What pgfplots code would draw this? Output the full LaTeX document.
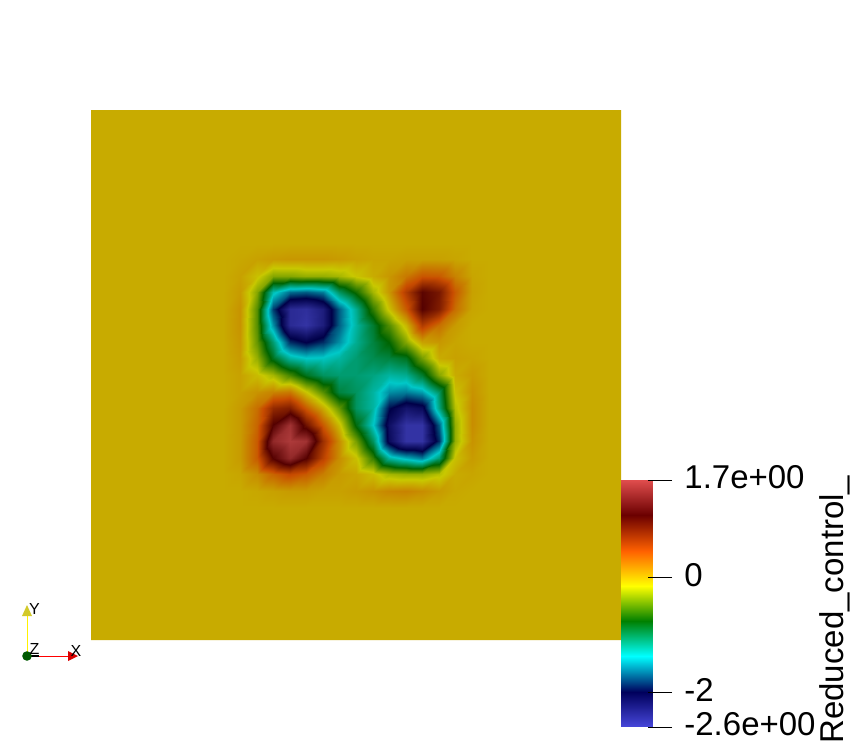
\documentclass[border=0pt]{standalone}
\usepackage{fontspec}
\setmainfont{Liberation Sans}
\usepackage{pgfplots}
\pgfplotsset{compat=1.18}
% ParaView rainbow desaturated; the lit surface is 0.784 times the bar colours
\pgfplotsset{
  colormap={bar}{rgb255(0cm)=(71,71,219) rgb255(1cm)=(0,0,92) rgb255(2cm)=(0,255,255) rgb255(3cm)=(0,128,0)
    rgb255(4cm)=(255,255,0) rgb255(5cm)=(255,97,0) rgb255(6cm)=(107,0,0) rgb255(7cm)=(224,77,77)},
  colormap={lit}{rgb255(0cm)=(56,56,172) rgb255(1cm)=(0,0,72) rgb255(2cm)=(0,200,200) rgb255(3cm)=(0,100,0)
    rgb255(4cm)=(200,200,0) rgb255(5cm)=(200,76,0) rgb255(6cm)=(84,0,0) rgb255(7cm)=(176,60,60)}
}
\begin{document}
\begin{tikzpicture}
\path[use as bounding box] (0,0) rectangle (429pt,-375pt);
% field on the 32x32 mesh, value 0 everywhere outside the patch
\begin{axis}[
  at={(45.5pt,-55pt)}, anchor=north west,
  scale only axis, width=265pt, height=265pt,
  hide axis, view={0}{90}, y dir=reverse,
  xmin=0, xmax=32, ymin=0, ymax=32,
  colormap name=lit, point meta min=-2.6, point meta max=1.7,
]
\addplot3[surf, shader=flat, draw=none] coordinates {
(0,0,0) (32,0,0)

(0,32,0) (32,32,0)
};
\addplot3[surf, shader=interp] coordinates {
(8,8,0) (9,8,0) (10,8,0) (11,8,0) (12,8,0) (13,8,0) (14,8,0) (15,8,0) (16,8,0) (17,8,0) (18,8,0) (19,8,0) (20,8,0) (21,8,0) (22,8,0) (23,8,0) (24,8,0)

(8,9,0) (9,9,0.02) (10,9,0.05) (11,9,0.08) (12,9,0.1) (13,9,0.1) (14,9,0.1) (15,9,0.08) (16,9,0.05) (17,9,0.03) (18,9,0.03) (19,9,0.05) (20,9,0.05) (21,9,0.05) (22,9,0.03) (23,9,0) (24,9,0)

(8,10,0) (9,10,0.05) (10,10,-0.1) (11,10,-0.35) (12,10,-0.35) (13,10,-0.3) (14,10,-0.3) (15,10,-0.25) (16,10,-0.12) (17,10,0) (18,10,0.1) (19,10,0.25) (20,10,0.42) (21,10,0.4) (22,10,0.2) (23,10,0.03) (24,10,0)

(8,11,0) (9,11,0.08) (10,11,-0.35) (11,11,-1.3) (12,11,-1.65) (13,11,-1.7) (14,11,-1.6) (15,11,-1.05) (16,11,-0.7) (17,11,-0.25) (18,11,0.1) (19,11,0.6) (20,11,1.05) (21,11,0.9) (22,11,0.4) (23,11,0.05) (24,11,0)

(8,12,0) (9,12,0.12) (10,12,-0.5) (11,12,-1.8) (12,12,-2.45) (13,12,-2.5) (14,12,-2.3) (15,12,-1.7) (16,12,-1.2) (17,12,-0.6) (18,12,-0.1) (19,12,0.4) (20,12,1.08) (21,12,0.85) (22,12,0.3) (23,12,0.03) (24,12,0)

(8,13,0) (9,13,0.12) (10,13,-0.5) (11,13,-1.55) (12,13,-2.45) (13,13,-2.55) (14,13,-2.3) (15,13,-1.7) (16,13,-1.25) (17,13,-0.9) (18,13,-0.5) (19,13,-0.05) (20,13,0.6) (21,13,0.3) (22,13,0.08) (23,13,0) (24,13,0)

(8,14,0) (9,14,0.1) (10,14,-0.45) (11,14,-1.1) (12,14,-1.85) (13,14,-2) (14,14,-1.85) (15,14,-1.55) (16,14,-1.2) (17,14,-0.95) (18,14,-0.75) (19,14,-0.35) (20,14,0.05) (21,14,0.1) (22,14,0.03) (23,14,0) (24,14,0)

(8,15,0) (9,15,0.08) (10,15,-0.3) (11,15,-0.85) (12,15,-1.25) (13,15,-1.37) (14,15,-1.35) (15,15,-1.25) (16,15,-1.1) (17,15,-1) (18,15,-0.95) (19,15,-0.85) (20,15,-0.4) (21,15,0) (22,15,0.05) (23,15,0.03) (24,15,0)

(8,16,0) (9,16,0.05) (10,16,-0.08) (11,16,-0.25) (12,16,-0.55) (13,16,-0.85) (14,16,-1.05) (15,16,-1.1) (16,16,-1.1) (17,16,-1.15) (18,16,-1.25) (19,16,-1.2) (20,16,-0.9) (21,16,-0.35) (22,16,0) (23,16,0.08) (24,16,0)

(8,17,0) (9,17,0.05) (10,17,0.12) (11,17,0.2) (12,17,0.25) (13,17,-0.12) (14,17,-0.5) (15,17,-0.95) (16,17,-1.05) (17,17,-1.25) (18,17,-1.55) (19,17,-1.6) (20,17,-1.5) (21,17,-1.05) (22,17,-0.1) (23,17,0.12) (24,17,0)

(8,18,0) (9,18,0.08) (10,18,0.3) (11,18,0.75) (12,18,0.85) (13,18,0.4) (14,18,0) (15,18,-0.45) (16,18,-1.05) (17,18,-1.25) (18,18,-1.95) (19,18,-2.2) (20,18,-2.1) (21,18,-1.15) (22,18,-0.2) (23,18,0.15) (24,18,0)

(8,19,0) (9,19,0.08) (10,19,0.35) (11,19,1.1) (12,19,1.6) (13,19,0.95) (14,19,0.4) (15,19,-0.08) (16,19,-0.8) (17,19,-1.37) (18,19,-2.15) (19,19,-2.55) (20,19,-2.55) (21,19,-1.7) (22,19,-0.3) (23,19,0.15) (24,19,0)

(8,20,0) (9,20,0.08) (10,20,0.4) (11,20,1.5) (12,20,1.68) (13,20,1.6) (14,20,0.7) (15,20,0.15) (16,20,-0.4) (17,20,-1.05) (18,20,-2.1) (19,20,-2.55) (20,20,-2.55) (21,20,-1.85) (22,20,-0.3) (23,20,0.12) (24,20,0)

(8,21,0) (9,21,0.08) (10,21,0.4) (11,21,1.1) (12,21,1.5) (13,21,1.1) (14,21,0.55) (15,21,0.15) (16,21,-0.1) (17,21,-0.6) (18,21,-1.25) (19,21,-1.45) (20,21,-1.6) (21,21,-1.1) (22,21,-0.1) (23,21,0.08) (24,21,0)

(8,22,0) (9,22,0.03) (10,22,0.15) (11,22,0.35) (12,22,0.5) (13,22,0.4) (14,22,0.22) (15,22,0.08) (16,22,0.03) (17,22,-0.08) (18,22,-0.25) (19,22,-0.3) (20,22,-0.3) (21,22,-0.2) (22,22,0) (23,22,0.03) (24,22,0)

(8,23,0) (9,23,0) (10,23,0.02) (11,23,0.05) (12,23,0.08) (13,23,0.08) (14,23,0.05) (15,23,0.05) (16,23,0.08) (17,23,0.12) (18,23,0.18) (19,23,0.2) (20,23,0.15) (21,23,0.08) (22,23,0.02) (23,23,0) (24,23,0)

(8,24,0) (9,24,0) (10,24,0) (11,24,0) (12,24,0) (13,24,0) (14,24,0) (15,24,0) (16,24,0) (17,24,0) (18,24,0) (19,24,0) (20,24,0) (21,24,0) (22,24,0) (23,24,0) (24,24,0)
};
\end{axis}
% colour bar
\begin{axis}[
  at={(310.5pt,-240pt)}, anchor=north west,
  scale only axis, width=15.5pt, height=123.5pt,
  view={0}{90},
  xmin=0, xmax=1, ymin=-2.6, ymax=1.7,
  axis line style={draw=none},
  xtick=\empty,
  ytick={-2.6,-2,0,1.7},
  yticklabels={-2.6e+00,-2,0,1.7e+00},
  ytick pos=right, tick align=outside, major tick length=12pt,
  tick style={black, line width=0.4pt, xshift=-1.9pt},
  yticklabel pos=right,
  yticklabel style={font=\fontsize{16.5}{18}\selectfont, anchor=west, xshift=4pt, yshift=1.5pt, inner sep=0pt},
  colormap name=bar, point meta min=-2.6, point meta max=1.7,
  clip=false,
]
\addplot3[surf, shader=interp] coordinates {
(0,-2.6,-2.6) (1,-2.6,-2.6)

(0,-1.986,-1.986) (1,-1.986,-1.986)

(0,-1.371,-1.371) (1,-1.371,-1.371)

(0,-0.757,-0.757) (1,-0.757,-0.757)

(0,-0.143,-0.143) (1,-0.143,-0.143)

(0,0.471,0.471) (1,0.471,0.471)

(0,1.086,1.086) (1,1.086,1.086)

(0,1.7,1.7) (1,1.7,1.7)
};
\end{axis}
\node[rotate=90, anchor=base west, inner sep=0pt, font=\fontsize{16.5}{18}\selectfont] at (421.5pt,-372pt) {Reduced\_control\_};
% orientation triad
\draw[black, line width=0.8pt] (13.5pt,-328pt) -- (19.5pt,-328pt);
\draw[red, line width=0.5pt] (19.5pt,-328pt) -- (36pt,-328pt);
\draw[yellow, line width=0.5pt] (13.5pt,-328pt) -- (13.5pt,-306pt);
\fill[red!85!black] (34pt,-325.5pt) -- (39pt,-328pt) -- (34pt,-330.5pt) -- cycle;
\fill[yellow!80!black] (11pt,-308pt) -- (13.5pt,-302.5pt) -- (16pt,-308pt) -- cycle;
\fill[green!35!black] (13.5pt,-328pt) circle (2.4pt);
\node[font=\fontsize{8}{9}\selectfont, inner sep=0pt] at (38pt,-325.3pt) {X};
\node[font=\fontsize{8}{9}\selectfont, inner sep=0pt] at (17.2pt,-304.5pt) {Y};
\node[font=\fontsize{8}{9}\selectfont, inner sep=0pt] at (17.3pt,-324.3pt) {Z};
\end{tikzpicture}
\end{document}
